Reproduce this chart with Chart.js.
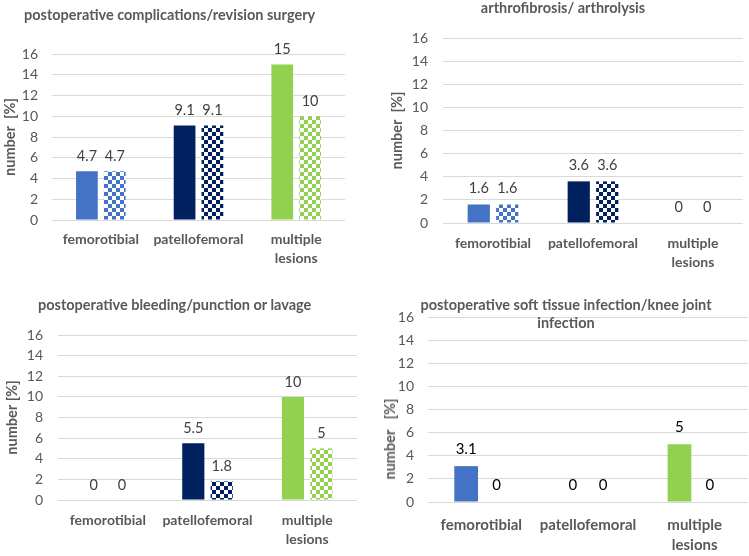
<!DOCTYPE html>
<html><head><meta charset="utf-8">
<script src="https://cdn.jsdelivr.net/npm/chart.js@4.4.0/dist/chart.umd.min.js"></script>
<style>
html,body{margin:0;padding:0;background:#fff;}
#wrap{position:relative;width:749px;height:556px;overflow:hidden;font-family:Lato, sans-serif;}
canvas{position:absolute;}
.t{position:absolute;font-weight:bold;color:#595959;font-size:14.5px;white-space:nowrap;line-height:18px;}
.yl{position:absolute;font-weight:bold;color:#595959;font-size:14.5px;white-space:pre;line-height:18px;transform:translate(-50%,-50%) rotate(-90deg);}
</style></head><body>
<div id="wrap">
<canvas id="c1" width="375" height="270" style="left:0;top:0"></canvas>
<canvas id="c2" width="374" height="270" style="left:375px;top:0"></canvas>
<canvas id="c3" width="375" height="286" style="left:0;top:270px"></canvas>
<canvas id="c4" width="374" height="286" style="left:375px;top:270px"></canvas>
<div class="t" style="left:24px;top:6px">postoperative complications/revision surgery</div>
<div class="t" style="left:563px;top:-1px;transform:translateX(-50%)">arthrofibrosis/ arthrolysis</div>
<div class="t" style="left:38px;top:296px">postoperative bleeding/punction or lavage</div>
<div class="t" style="left:566px;top:296px;transform:translateX(-50%);text-align:center;line-height:18px">postoperative soft tissue infection/knee joint<br>infection</div>
<div class="yl" style="left:390px;top:439px">number   [%]</div>
</div>
<script>
// ---- data ----
const categories = ['femorotibial', 'patellofemoral', ['multiple', 'lesions']];
const yTicks = [0, 2, 4, 6, 8, 10, 12, 14, 16];
const p1Solid = [4.7, 9.1, 15];
const p1Pattern = [4.7, 9.1, 10];
const p2Solid = [1.6, 3.6, 0];
const p2Pattern = [1.6, 3.6, 0];
const p3Solid = [0, 5.5, 10];
const p3Pattern = [0, 1.8, 5];
const p4Solid = [3.1, 0, 5];
const p4Pattern = [0, 0, 0];

const colors = ['#4472C4', '#002060', '#92D050'];
const FONT = 'Lato, sans-serif';

function checker(color) {
  const c = document.createElement('canvas');
  c.width = 8; c.height = 8;
  const x = c.getContext('2d');
  x.fillStyle = color; x.fillRect(0, 0, 8, 8);
  x.fillStyle = '#ffffff';
  x.fillRect(4, 0, 4, 4); x.fillRect(0, 4, 4, 4);
  return x.createPattern(c, 'repeat');
}

const labelPlugin = {
  id: 'vals',
  afterDatasetsDraw(chart, args, opts) {
    const ctx = chart.ctx;
    ctx.save();
    ctx.font = (opts.size || 14.5) + 'px ' + FONT;
    ctx.fillStyle = opts.color || '#404040';
    ctx.textAlign = 'center';
    ctx.textBaseline = 'middle';
    chart.data.datasets.forEach((ds, i) => {
      const meta = chart.getDatasetMeta(i);
      meta.data.forEach((el, j) => {
        ctx.fillText(String(ds.data[j]), el.x, el.y - (opts.offset || 15));
      });
    });
    ctx.restore();
  }
};

function make(id, solid, patt, cfg) {
  const ctx = document.getElementById(id);
  const W = ctx.width, H = ctx.height;
  return new Chart(ctx, {
    type: 'bar',
    data: {
      labels: categories,
      datasets: [
        { data: solid, backgroundColor: colors, categoryPercentage: 0.57, barPercentage: 0.78 },
        { data: patt, backgroundColor: colors.map(checker), categoryPercentage: 0.57, barPercentage: 0.78 }
      ]
    },
    options: {
      responsive: false,
      animation: false,
      events: [],
      layout: { padding: { left: 0, right: W - cfg.right, top: cfg.top, bottom: 0 } },
      plugins: {
        legend: { display: false },
        tooltip: { enabled: false },
        vals: { color: cfg.valColor, size: cfg.valSize, offset: cfg.valOffset }
      },
      scales: {
        x: {
          grid: { display: false, drawTicks: false },
          border: { display: false },
          ticks: {
            color: '#595959', padding: cfg.xPad, maxRotation: 0, autoSkip: false,
            font: { family: FONT, size: cfg.xSize, weight: 'bold', lineHeight: cfg.xLH }
          },
          afterFit(s) { s.height = H - cfg.bottom; }
        },
        y: {
          min: 0, max: 16,
          afterBuildTicks(s) { s.ticks = yTicks.map(v => ({ value: v })); },
          grid: { color: '#D9D9D9', drawTicks: false, lineWidth: 1 },
          border: { display: false },
          ticks: { color: '#595959', padding: cfg.yPad, font: { family: FONT, size: 14 } },
          title: {
            display: cfg.yTitle !== false,
            text: cfg.yText || 'number [%]', color: '#595959',
            font: { family: FONT, size: 14.5, weight: 'bold', lineHeight: 1.2 },
            padding: { top: cfg.yTitlePad, bottom: 0 }
          },
          afterFit(s) { s.width = cfg.left; }
        }
      }
    },
    plugins: [labelPlugin]
  });
}

make('c1', p1Solid, p1Pattern, { left: 52, right: 345, top: 54, bottom: 220, yPad: 14, yTitlePad: 1.5, yText: 'number  [%]', xPad: 9.5, xSize: 14, xLH: 1.36, valSize: 14.5, valOffset: 15 });
make('c2', p2Solid, p2Pattern, { left: 68, right: 368, top: 38, bottom: 223, yPad: 15, yTitlePad: 14, yText: 'number  [%]', xPad: 10.5, xSize: 14, xLH: 1.36, valSize: 14.5, valOffset: 16 });
make('c3', p3Solid, p3Pattern, { left: 58, right: 357, top: 65, bottom: 230, yPad: 15, yTitlePad: 4, xPad: 10.5, xSize: 14, xLH: 1.36, valSize: 14.5, valOffset: 15 });
make('c4', p4Solid, p4Pattern, { left: 53, right: 373, top: 47, bottom: 232, yPad: 14, yTitle: false, yTitlePad: 0, xPad: 13, xSize: 15, xLH: 1.33, valSize: 15, valOffset: 17, valColor: '#000000' });
</script>
</body></html>
